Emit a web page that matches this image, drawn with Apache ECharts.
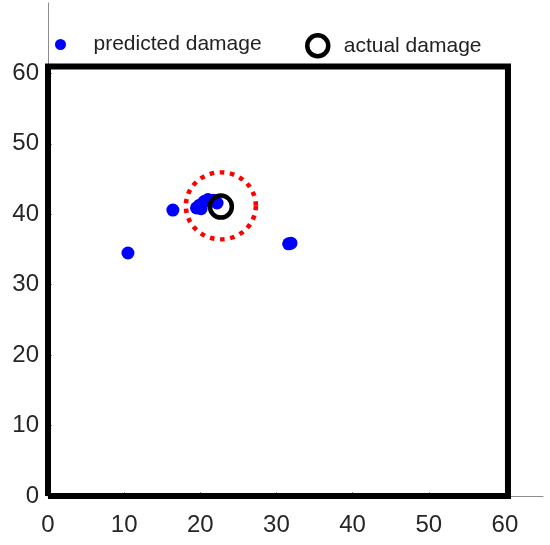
<!DOCTYPE html>
<html>
<head>
<meta charset="utf-8">
<script src="https://cdn.jsdelivr.net/npm/echarts@6/dist/echarts.min.js"></script>
<style>
    html, body { margin: 0; padding: 0; background: #fff; }
    #chart { width: 550px; height: 545px; }
</style>
</head>
<body>
<div id="chart"></div>
<script>
// data
const predicted = [
    [10.5, 34.5],
    [16.4, 40.6],
    [19.5, 40.9],
    [19.9, 41.3],
    [20.1, 40.8],
    [20.5, 41.8],
    [21.0, 42.1],
    [21.7, 42.0],
    [22.2, 41.6],
    [31.6, 35.8],
    [31.9, 35.9],
];
const actual = [[22.7, 41.1]];
const searchArea = [[22.7, 41.2]];
const plate = [[0, 0], [60.4, 0], [60.4, 61.0], [0, 61.0], [0, 0]];
const xTicks = [0, 10, 20, 30, 40, 50, 60];
const yTicks = [0, 10, 20, 30, 40, 50, 60];

const chart = echarts.init(document.getElementById('chart'));

const axisCommon = {
    type: 'value',
    min: 0,
    splitLine: { show: false },
    axisLine: { show: true, onZero: false, lineStyle: { color: '#8c8c8c', width: 1 } },
    axisTick: { show: true, inside: true, length: 4, customValues: xTicks, lineStyle: { color: '#8c8c8c' } },
};

const option = {
    backgroundColor: '#fff',
    animation: false,
    legend: [
        {
            data: ['predicted damage'],
            left: 55,
            top: 34,
            padding: 0,
            itemWidth: 56,
            itemHeight: 11,
            icon: 'circle',
            itemStyle: { color: '#0000ff', borderWidth: 0, opacity: 1 },
            textStyle: { fontFamily: 'Liberation Sans', fontSize: 21, color: '#222' },
        },
        {
            data: ['actual damage'],
            left: 305,
            top: 33,
            padding: 0,
            itemWidth: 42,
            itemHeight: 21,
            icon: 'circle',
            itemStyle: { color: 'rgba(0,0,0,0)', borderColor: '#000', borderWidth: 4.5, opacity: 1 },
            textStyle: { fontFamily: 'Liberation Sans', fontSize: 21, color: '#222' },
        },
    ],
    grid: { left: 48, right: 7, top: 3, bottom: 49 },
    xAxis: {
        ...axisCommon,
        max: 65,
        axisLabel: {
            customValues: xTicks,
            margin: 17,
            fontFamily: 'Liberation Sans',
            fontSize: 24,
            color: '#262626',
        },
    },
    yAxis: {
        ...axisCommon,
        max: 70,
        axisTick: { ...axisCommon.axisTick, customValues: yTicks },
        axisLabel: {
            customValues: yTicks,
            margin: 9,
            fontFamily: 'Liberation Sans',
            fontSize: 24,
            color: '#262626',
        },
    },
    series: [
        {
            name: 'plate',
            type: 'line',
            data: plate,
            showSymbol: false,
            lineStyle: { color: '#000', width: 6, join: 'miter' },
            silent: true,
        },
        {
            name: 'area',
            type: 'scatter',
            data: searchArea,
            symbol: 'circle',
            symbolSize: [70, 67],
            itemStyle: {
                color: 'rgba(0,0,0,0)',
                borderColor: '#ff0000',
                borderWidth: 4.5,
                borderType: [4.5, 5.5],
                opacity: 1,
            },
        },
        {
            name: 'predicted damage',
            type: 'scatter',
            data: predicted,
            symbol: 'circle',
            symbolSize: 13,
            itemStyle: { color: '#0000ff', opacity: 1 },
        },
        {
            name: 'actual damage',
            type: 'scatter',
            data: actual,
            symbol: 'circle',
            symbolSize: 22,
            itemStyle: { color: 'rgba(0,0,0,0)', borderColor: '#000', borderWidth: 4.5, opacity: 1 },
        },
    ],
};

chart.setOption(option);
</script>
</body>
</html>
